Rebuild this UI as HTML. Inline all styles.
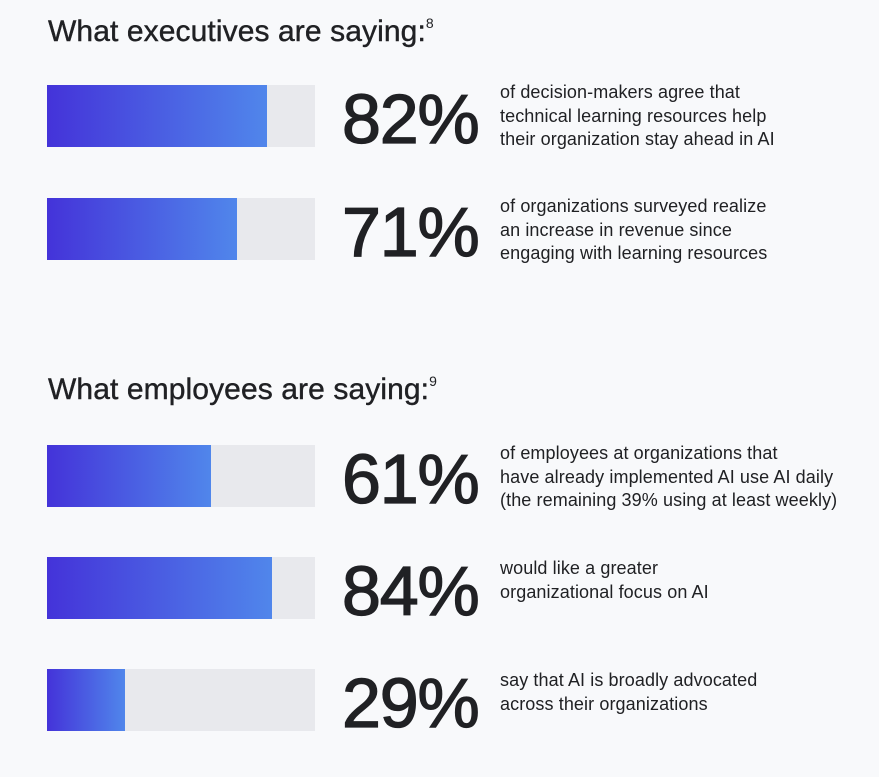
<!DOCTYPE html>
<html><head><meta charset="utf-8"><style>
body{margin:0;width:879px;height:777px;background:#f8f9fb;position:relative;overflow:hidden;font-family:"Liberation Sans",sans-serif;color:#202124}
.h{position:absolute;left:48px;font-size:30px;line-height:30px;letter-spacing:0.1px;white-space:nowrap;-webkit-text-stroke:0.4px #202124}
.h sup{font-size:14px;position:relative;top:-1px;vertical-align:top;line-height:14px;-webkit-text-stroke:0}
.bar{position:absolute;left:47px;width:268px;height:62px;background:#e8e9ed}
.bar div{height:100%;background:linear-gradient(90deg,#4433d9,#5086eb)}
.n{position:absolute;left:342px;font-size:70px;line-height:70px;letter-spacing:-1.2px;white-space:nowrap;-webkit-text-stroke:1.3px #202124}
.d{position:absolute;left:500px;font-size:18px;line-height:23.5px;letter-spacing:0.1px;white-space:nowrap}
</style></head><body>
<div class="h" style="top:17px">What executives are saying:<sup>8</sup></div>
<div class="bar" style="top:85px"><div style="width:220px"></div></div>
<div class="n" style="top:84px">82%</div>
<div class="d" style="top:81px">of decision-makers agree that<br>technical learning resources help<br>their organization stay ahead in AI</div>
<div class="bar" style="top:198px"><div style="width:190px"></div></div>
<div class="n" style="top:197px">71%</div>
<div class="d" style="top:195px">of organizations surveyed realize<br>an increase in revenue since<br>engaging with learning resources</div>
<div class="h" style="top:375px">What employees are saying:<sup>9</sup></div>
<div class="bar" style="top:445px"><div style="width:164px"></div></div>
<div class="n" style="top:444px">61%</div>
<div class="d" style="top:442px">of employees at organizations that<br>have already implemented AI use AI daily<br>(the remaining 39% using at least weekly)</div>
<div class="bar" style="top:557px"><div style="width:225px"></div></div>
<div class="n" style="top:556px">84%</div>
<div class="d" style="top:557px">would like a greater<br>organizational focus on AI</div>
<div class="bar" style="top:669px"><div style="width:78px"></div></div>
<div class="n" style="top:668px">29%</div>
<div class="d" style="top:669px">say that AI is broadly advocated<br>across their organizations</div>
</body></html>
